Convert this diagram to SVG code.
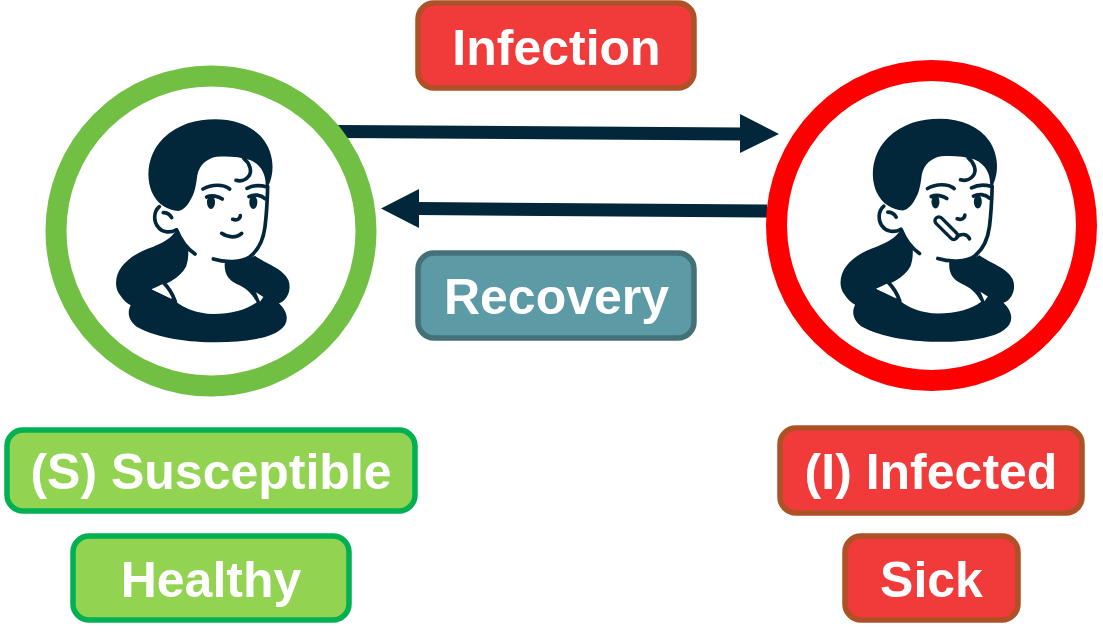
<svg xmlns="http://www.w3.org/2000/svg" xmlns:xlink="http://www.w3.org/1999/xlink" width="1103" height="639" viewBox="0 0 1103 639">
<style>
.lbl{font-family:"Liberation Sans",Arial,sans-serif;font-weight:700;font-size:50px;fill:#fff;text-anchor:middle}
.box{stroke-width:5.500}
.red{fill:#f13a3a;stroke:#ae5126}
.green{fill:#92d352;stroke:#00b052}
.teal{fill:#5c9aa5;stroke:#447077}
.ring{fill:#fff;stroke-width:21}
.ln{fill:none;stroke:#02263a;stroke-width:11;stroke-linecap:round;stroke-linejoin:round}
.dk{fill:#02263a}
.wire{stroke:#02263a;stroke-width:13;fill:none}
</style>
<defs>
<g id="base">
<path class="dk" d="M235 303C205 300 172 285 155 245C135 195 145 130 190 85C235 42 290 28 345 28C410 28 465 52 495 95C518 130 527 180 505 228L497 228C498 195 485 165 450 150C420 140 385 138 350 140C320 145 298 165 292 195C288 225 285 250 270 272C260 290 248 300 235 303Z"/>
<path class="dk" d="M230 358C215 385 190 398 160 410C115 425 85 445 65 470C45 495 42 535 60 555C70 570 80 580 92 586C82 605 83 630 110 650C170 685 270 697 350 697C430 697 510 685 540 660C567 640 568 610 537 580C565 570 575 535 565 510C550 475 495 460 465 437C440 450 400 455 375 452C370 490 385 510 410 522C440 535 455 550 470 577C440 600 395 612 340 612C290 610 255 595 228 575L215 565L155 538C190 528 240 505 258 470C265 450 265 435 265 420Z"/>
<path fill="#fff" d="M155 538L190 521L215 567Z"/>
<path fill="#fff" d="M468 547L490 561L480 575Z"/>
<path class="ln" d="M190 517C205 532 218 552 226 575"/>
<path class="ln" d="M230 360C242 390 260 415 285 432"/>
<path class="ln" d="M340 447C375 458 425 458 450 440C475 420 490 390 495 350C500 310 502 270 503 230"/>
<path class="ln" d="M178 290C160 305 160 335 175 352C185 367 210 370 228 360"/>
<path class="ln" d="M190 308C202 308 210 314 215 323"/>
<path class="ln" d="M431 145C450 160 458 185 445 200C435 212 420 214 408 211"/>
<path class="ln" d="M309 237C335 222 370 222 389 237"/>
<path class="ln" d="M441 235C460 225 480 225 499 230"/>
<ellipse class="dk" cx="333" cy="277" rx="12" ry="20"/>
<ellipse class="dk" cx="460" cy="277" rx="12" ry="20"/>
<path class="ln" d="M320 261C335 255 355 258 367 267"/>
<path class="ln" d="M447 260C462 252 482 254 495 266"/>
<path class="ln" d="M398 328C410 332 420 328 421 317"/>
</g>
</defs>
<g id="connectors">
<path class="wire" d="M338 131.500L742 134"/>
<path class="dk" d="M740 114L779 134L740 153Z"/>
<path class="wire" d="M767 211L417 208.500"/>
<path class="dk" d="M419 189L381 208.500L419 228Z"/>
</g>
<g id="susceptible">
<circle class="ring" cx="211" cy="231" r="155" stroke="#71c044"/>
<g transform="translate(100 110) scale(.33333)">
<use xlink:href="#base" href="#base"/>
<path class="ln" d="M365 370C385 384 410 384 425 370"/>
</g>
</g>
<g id="infected">
<circle class="ring" cx="931.500" cy="225.500" r="155" stroke="#ff0000"/>
<g transform="translate(824.500 109.500) scale(.33333)">
<use xlink:href="#base" href="#base"/>
<g transform="rotate(45 365 355)"><rect x="323" y="344" width="86" height="23" rx="11" fill="#fff" stroke="#02263a" stroke-width="10"/></g>
<path class="ln" d="M398 381C410 372 428 372 435 388"/>
</g>
</g>
<g id="infection"><rect class="box red" x="418" y="3" width="276" height="85" rx="16"/><text class="lbl" x="556.500" y="65">Infection</text></g>
<g id="recovery"><rect class="box teal" x="418" y="253" width="276" height="85" rx="16"/><text class="lbl" x="556.500" y="314">Recovery</text></g>
<g id="label-s"><rect class="box green" x="7" y="430" width="408" height="81" rx="16"/><text class="lbl" x="211" y="489">(S) Susceptible</text></g>
<g id="label-healthy"><rect class="box green" x="73" y="536" width="276" height="84" rx="16"/><text class="lbl" x="211" y="597">Healthy</text></g>
<g id="label-i"><rect class="box red" x="780" y="428" width="302" height="85" rx="16"/><text class="lbl" x="931" y="489">(I) Infected</text></g>
<g id="label-sick"><rect class="box red" x="845" y="536" width="173" height="84" rx="16"/><text class="lbl" x="931.500" y="597">Sick</text></g>
</svg>
